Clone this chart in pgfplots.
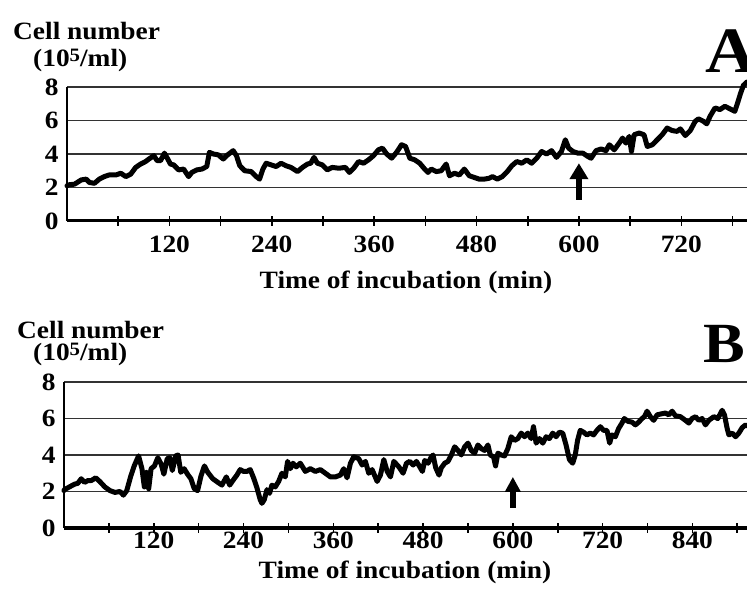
\documentclass[border=0pt]{standalone}
\usepackage{fontspec}
\setmainfont{Liberation Serif}[FakeStretch=1.1]
\usepackage{pgfplots}
\pgfplotsset{compat=1.18}
\usetikzlibrary{arrows.meta}

\newcommand{\lab}{\fontsize{25}{25}\selectfont\bfseries}
\newcommand{\unitlab}{(10{\fontsize{19}{19}\selectfont\raisebox{5bp}{5}}/ml)}

\pgfplotsset{
  panel/.style={
    scale only axis, anchor=south west,
    axis x line=bottom, axis y line=left,
    axis line style={-, black},
    x axis line style={-, line width=3bp},
    y axis line style={-, line width=2.2bp},
    xmin=0, ymin=0, ymax=8,
    ytick={0,2,4,6,8},
    ymajorgrids, grid style={black!80, line width=1.5bp},
    tick align=center, major tick length=10bp,
    xtick style={black, line width=1.6bp},
    ytick style={draw=none},
    tick label style={font=\lab},
    /pgf/number format/assume math mode=true,
    clip=false,
  },
  trace/.style={black, line width=5bp, line join=round, line cap=round},
}

\begin{document}
\begin{tikzpicture}
\useasboundingbox (0,0) rectangle (747bp,592bp);

% ---- panel A
\begin{axis}[panel,
  at={(67bp,371bp)}, width=680bp, height=134bp,
  xmax=797,
  xtick={60,120,...,780},
  xticklabels={,120,,240,,360,,480,,600,,720,},
  xticklabel style={yshift=-6bp},
]
\addplot[trace] coordinates {
(0,2.1) (1.9,2.16) (8.9,2.2) (16.6,2.45) (22.4,2.5) (26.3,2.3) (32.1,2.25)
(37.9,2.5) (43.7,2.65) (49.5,2.75) (57.3,2.75) (63.1,2.85) (68.9,2.65)
(74.7,2.8) (80.5,3.2) (86.3,3.4) (92.1,3.55) (96,3.7) (101.8,3.9) (105.7,3.6)
(109.6,3.6) (114.2,4.05) (118.1,3.7) (121.2,3.4) (125,3.35) (130.8,3.05)
(136.7,3.1) (142.5,2.65) (146.3,2.9) (152.1,3.05) (158,3.1) (163.8,3.25)
(166.9,4.1) (171.5,4.0) (177.3,3.95) (183.1,3.7) (187,3.9) (194.8,4.2)
(198.6,3.9) (202.5,3.3) (208.3,3.0) (216,2.95) (221.8,2.65) (225.7,2.5)
(229.6,3.1) (233.4,3.45) (239.2,3.35) (245.1,3.25) (250.9,3.45) (256.7,3.3)
(262.4,3.2) (270.2,2.95) (276,3.2) (281.8,3.4) (285.7,3.45) (289.5,3.8)
(293.4,3.45) (299.2,3.35) (305,3.05) (310.8,3.2) (318.6,3.15) (326.3,3.2)
(331,2.9) (336,3.15) (341.8,3.55) (347.6,3.45) (353.4,3.65) (359.2,3.9)
(365,4.25) (369.7,4.35) (374.7,4.0) (380.5,3.75) (386.3,4.1) (392.1,4.55)
(396.8,4.45) (401.8,3.75) (407.6,3.65) (413.4,3.45) (419.2,3.1) (423.1,2.9)
(427,3.1) (432.8,2.95) (438.6,3.0) (444.4,3.4) (448.3,2.7) (454.1,2.85)
(459.9,2.75) (465.7,3.1) (471.5,2.7) (477.3,2.6) (483.1,2.5) (488.9,2.5)
(494.7,2.55) (498.6,2.65) (504.4,2.5) (510.2,2.65) (516,2.95) (521.4,3.3)
(527.2,3.55) (533,3.45) (538.8,3.65) (544.6,3.45) (550.5,3.75) (556.3,4.15)
(562.1,4.0) (567.9,4.2) (573.7,3.8) (579.5,4.15) (584.1,4.85) (588,4.35)
(593,4.15) (598.8,4.05) (604.7,4.05) (610.5,3.85) (614.3,3.75) (620.1,4.2)
(625.9,4.3) (631.8,4.2) (635.6,4.55) (641.4,4.25) (647.2,4.65) (651.1,4.95)
(655,4.65) (658.9,5.05) (661.6,4.15) (664.7,5.15) (670.5,5.25) (676.3,5.15)
(680.1,4.45) (686,4.55) (691.8,4.85) (697.6,5.15) (703.4,5.55) (709.2,5.4)
(715,5.35) (718.9,5.5) (724.7,5.1) (730.5,5.4) (736.3,5.95) (740.2,6.1)
(746,5.95) (749.8,5.8) (753.7,6.25) (759.5,6.75) (765.3,6.65) (771.1,6.85)
(776.9,6.7) (782.7,6.55) (786.6,7.15) (789.3,7.6) (792.8,8.1) (797,8.3)
};
\draw[black, line width=6bp, -{Triangle[width=18bp,length=16bp]}] (600,1.27) -- (600,3.45);
\end{axis}

% ---- panel B
\begin{axis}[panel,
  at={(64bp,64bp)}, width=683bp, height=146bp,
  xmax=913,
  x axis line style={line width=4bp},
  xtick={60,120,...,900},
  xticklabels={,120,,240,,360,,480,,600,,720,,840,},
  xticklabel style={yshift=5bp},
]
\addplot[trace] coordinates {
(0,2.05) (0.5,2.1) (7.2,2.25) (14,2.4) (18.5,2.45) (23,2.7) (27.5,2.5)
(32,2.6) (36.5,2.6) (42.4,2.75) (47.8,2.55) (54.6,2.25) (61.4,2.05)
(68.1,1.95) (74.9,2.0) (79.4,1.8) (83.9,2.05) (89.3,2.85) (93.8,3.4)
(99.7,3.95) (104.2,3.25) (107.4,2.25) (110.1,3.05) (113.2,2.15) (116.4,3.25)
(120.9,3.4) (125.4,3.85) (129.9,3.5) (133.5,2.95) (138,3.8) (141.6,3.85)
(144.8,3.15) (149.3,3.95) (152.5,4.0) (156.1,3.05) (160.6,3.25) (165.1,2.95)
(169.6,2.7) (174.2,2.15) (178.6,2.05) (183.1,2.85) (187.7,3.4) (192.2,3.05)
(198.9,2.7) (205.7,2.5) (211.1,2.35) (217,2.8) (221.5,2.35) (226.6,2.65)
(231.1,2.9) (235.5,3.2) (240,3.1) (244.5,3.1) (248.9,3.2) (253.4,2.75)
(257.9,2.2) (262.3,1.55) (264.6,1.35) (267.7,1.55) (271.3,2.1) (274.8,1.9)
(277.9,2.35) (282.4,2.25) (286.9,2.55) (291.3,3.0) (295.8,2.8) (298.9,3.65)
(302.5,3.25) (306.1,3.55) (310.5,3.35) (315.9,3.55) (322.6,3.1) (329.3,3.25)
(336,3.1) (342.7,3.2) (349.4,3.0) (356.1,2.8) (362.8,2.8) (369.5,2.9)
(373.9,3.25) (378.4,2.75) (382.9,3.55) (387.3,3.9) (394,3.8) (398.5,3.45)
(402.9,3.65) (407.4,3.0) (411.9,3.2) (418.6,2.55) (423,2.9) (427.5,3.75)
(432,3.1) (436.4,2.8) (440.9,3.65) (447.6,3.35) (453.3,3.0) (457.8,3.55)
(462.2,3.65) (466.7,3.45) (471.1,3.65) (475.6,3.35) (479.1,3.1) (482.2,3.7)
(486.7,3.55) (491.1,3.9) (493.3,4.0) (496.9,3.3) (501.3,2.9) (504.4,3.3)
(508.9,3.55) (513.3,3.65) (517.8,4.0) (522.2,4.45) (526.7,4.25) (531.1,4.0)
(535.6,4.45) (540,4.65) (544.4,4.25) (548.9,4.1) (553.3,4.55) (557.8,4.35)
(562.2,4.25) (566.7,4.55) (569.8,4.0) (574.2,3.9) (576.9,3.4) (580,4.1)
(584.4,4.0) (588.9,3.95) (593.3,4.35) (597.8,5.0) (602.2,4.8) (606.7,4.9)
(611.1,5.2) (615.6,5.0) (620,5.2) (624.4,4.9) (627.6,5.55) (631.1,4.65)
(635.6,4.9) (640,4.65) (644.4,5.0) (648.9,4.9) (653.3,5.2) (657.8,5.0)
(662.2,5.25) (666.7,5.2) (671.1,4.55) (675.6,3.75) (680,3.55) (683.4,4.0)
(686.5,4.8) (690.1,5.35) (694.6,5.25) (699,5.1) (703.5,5.2) (707.9,5.1)
(712.4,5.35) (716.9,5.55) (721.3,5.35) (725.8,5.35) (729.4,4.65) (732.5,5.1)
(737,5.0) (741.4,5.45) (745.9,5.75) (749,6.0) (753.5,5.85) (759.3,5.8)
(763.8,5.65) (768.2,5.8) (772.7,6.0) (775.8,6.1) (779.4,6.4) (783.8,6.1)
(788.3,5.9) (792.8,6.2) (798.1,6.25) (803.9,6.3) (808.4,6.2) (812.9,6.4)
(817.3,6.15) (824,6.1) (830.7,5.9) (835.2,5.75) (839.6,6.0) (844.1,6.1)
(848.6,5.9) (853,6.0) (857.5,5.65) (862,5.9) (868.7,6.1) (874,6.0)
(879.8,6.45) (882.9,6.2) (886.5,5.45) (888.8,5.1) (893.2,5.2) (897.7,5.0)
(902.1,5.2) (906.6,5.5) (911.1,5.65) (913,5.6)
};
\draw[black, line width=6bp, -{Triangle[width=15bp,length=15bp]}] (600,1.1) -- (600,2.8);
\end{axis}

% ---- labels
\node[anchor=base west, inner sep=0pt, font=\lab] at (13bp,552.7bp) {Cell number};
\node[anchor=base west, inner sep=0pt, font=\lab] at (33bp,525.3bp) {\unitlab};
\node[anchor=base, inner sep=0pt, font=\lab] at (406bp,303.7bp) {Time of incubation (min)};
\node[anchor=base west, inner sep=0pt, font=\fontsize{65}{65}\selectfont\bfseries] at (705bp,519bp) {A};

\node[anchor=base west, inner sep=0pt, font=\lab] at (17bp,253bp) {Cell number};
\node[anchor=base west, inner sep=0pt, font=\lab] at (33bp,231bp) {\unitlab};
\node[anchor=base, inner sep=0pt, font=\lab] at (405bp,13.7bp) {Time of incubation (min)};
\node[anchor=base west, inner sep=0pt, font=\fontsize{57}{57}\selectfont\bfseries] at (703bp,229bp) {B};
\end{tikzpicture}
\end{document}
